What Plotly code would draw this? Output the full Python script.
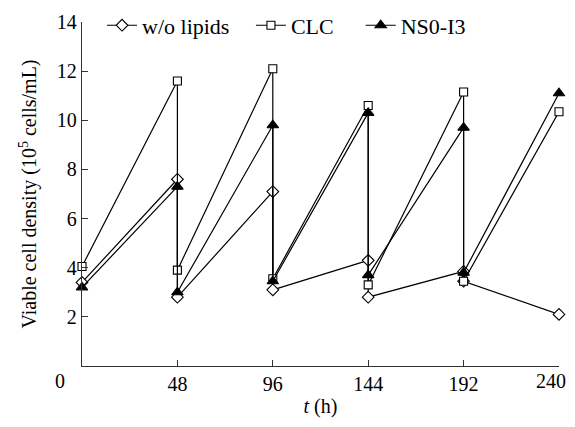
import plotly.graph_objects as go

# Time points (h): each medium exchange gives a peak and a post-exchange low at the same time
t = [0, 48, 48, 96, 96, 144, 144, 192, 192, 240]

wo_lipids = [3.4, 7.6, 2.8, 7.1, 3.1, 4.3, 2.8, 3.85, 3.45, 2.1]
clc = [4.05, 11.6, 3.9, 12.1, 3.55, 10.6, 3.3, 11.15, 3.45, 10.35]
ns0_i3 = [3.2, 7.3, 3.0, 9.8, 3.45, 10.3, 3.7, 9.7, 3.8, 11.1]

x_ticks = [48, 96, 144, 192, 240]
x_ticktext = ["48", "96", "144", "192", "240"]
y_ticks = [2, 4, 6, 8, 10, 12, 14]

FONT = "Liberation Serif"

fig = go.Figure()
series = [
    ("w/o lipids" + "&nbsp;" * 3, wo_lipids, "diamond", "white", 9),
    ("CLC" + "&nbsp;" * 4, clc, "square", "white", 8),
    ("NS0-I3", ns0_i3, "triangle-up", "black", 10),
]
for name, ys, sym, fill, size in series:
    fig.add_trace(go.Scatter(
        x=t, y=ys, name=name, mode="lines+markers",
        line=dict(color="black", width=1.2),
        marker=dict(symbol=sym, size=size, color=fill,
                    line=dict(color="black", width=1.1)),
        cliponaxis=False,
    ))

fig.update_layout(
    width=567, height=411,
    margin=dict(l=74, r=16, t=14, b=53, autoexpand=False),
    paper_bgcolor="white", plot_bgcolor="white",
    font=dict(family=FONT, size=20, color="black"),
    showlegend=True,
    legend=dict(orientation="h", x=0.042, y=0.99, xanchor="left", yanchor="middle",
                bgcolor="rgba(0,0,0,0)", font=dict(family=FONT, size=22),
                tracegroupgap=0),
    xaxis=dict(range=[0, 240], tickvals=x_ticks, ticktext=x_ticktext[:-1] + [""],
               ticks="inside", ticklen=6, tickcolor="#333", tickwidth=1.3,
               showline=True, linecolor="#333", linewidth=1.3, mirror=False,
               showgrid=False, zeroline=False, automargin=False,
               title=dict(text="<i>t</i> (h)", standoff=4, font=dict(family=FONT, size=20)),
               tickfont=dict(family=FONT, size=20)),
    yaxis=dict(range=[0, 14], tickvals=y_ticks, ticktext=[str(v) for v in y_ticks],
               ticks="inside", ticklen=6, tickcolor="#333", tickwidth=1.3,
               showline=True, linecolor="#333", linewidth=1.3, mirror=False,
               showgrid=False, zeroline=False, automargin=False,
               title=dict(text="Viable cell density (10<sup>5</sup> cells/mL)", standoff=14,
                          font=dict(family=FONT, size=20)),
               tickfont=dict(family=FONT, size=20)),
)

# shared origin label
fig.add_annotation(x=0, y=0, xref="x", yref="y", text="0", showarrow=False,
                   xanchor="center", yanchor="top", xshift=-22, yshift=-2,
                   font=dict(family=FONT, size=20))
# last x tick label, kept inside the visible page
fig.add_annotation(x=x_ticks[-1], y=0, xref="x", yref="y", text=x_ticktext[-1],
                   showarrow=False, xanchor="right", yanchor="top", xshift=9, yshift=-2,
                   font=dict(family=FONT, size=20))

fig.write_html("out.html")
